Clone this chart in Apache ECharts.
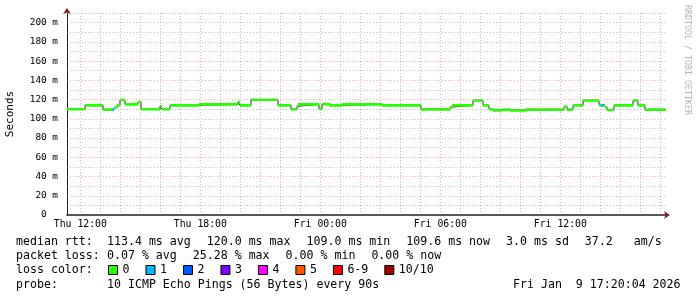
<!DOCTYPE html>
<html>
<head>
<meta charset="utf-8">
<script src="https://cdn.jsdelivr.net/npm/echarts@6/dist/echarts.min.js"></script>
<style>
html,body{margin:0;padding:0;background:#fff;}
#chart{width:697px;height:297px;}
</style>
</head>
<body>
<div id="chart"></div>
<script>
// ---- data (time in minutes since Thu 00:00) ----
const stepTimes = [680,734,788,815,821,830,839,854,893,902,959,965,989,1076,1193,1199,1232,1313,1352,1370,1373,1436,1445,1466,1505,1625,1742,1829,1835,1898,1928,1946,1958,1985,2009,2054,2171,2180,2198,2228,2276,2282,2291,2294,2300,2321,2378,2393,2414];
const stepEnd = 2477;
const medianRtt = [110.0,114.0,109.5,109.5,111.5,114.0,119.5,115.0,117.5,110.0,113.0,110.0,114.0,115.0,117.5,114.0,119.8,114.0,110.0,113.0,115.0,110.3,115.3,114.0,115.0,114.0,109.8,112.0,114.0,119.0,114.0,110.0,108.8,109.6,108.8,109.6,112.8,109.6,114.0,119.0,114.0,114.0,114.0,112.0,109.2,114.0,119.0,114.0,109.6];
const lostPings = [0,0,0,1,0,0,0,0,0,0,0,0,0,0,0,0,0,0,0,0,0,0,0,0,0,0,0,0,0,0,0,0,0,0,0,0,0,0,0,0,0,1,0,0,0,0,0,0,0];
const lossNames = ['0','1','2','3','4','5','6-9','10/10'];
const lossColors = ['#26ff00','#00b8ff','#0059ff','#7e00ff','#ff00ff','#ff5500','#ff0000','#a00000'];
const xRange = [680, 2480];
const xTickValues = [720,1080,1440,1800,2160];
const xTickLabels = ['Thu 12:00','Thu 18:00','Fri 00:00','Fri 06:00','Fri 12:00'];
const xMinorStep = 60, xMajorStep = 180;
const yRange = [0, 210];
const yTickValues = [0,20,40,60,80,100,120,140,160,180,200];
const yTickLabels = ['0  ','20 m','40 m','60 m','80 m','100 m','120 m','140 m','160 m','180 m','200 m'];
const yMinorStep = 10, yMajorStep = 20;
const rttLabel = 'median rtt:';
const rttParts = ['113.4 ms avg','120.0 ms max','109.0 ms min','109.6 ms now','3.0 ms sd','37.2   am/s'];
const lossLabel = 'packet loss:';
const lossParts = ['0.07 % avg','25.28 % max','0.00 % min','0.00 % now'];
const colorLabel = 'loss color:';
const probeLabel = 'probe:';
const probeText = '10 ICMP Echo Pings (56 Bytes) every 90s';
const stampText = 'Fri Jan  9 17:20:04 2026';
const yName = 'Seconds';
const watermark = 'RRDTOOL / TOBI OETIKER';

// ---- build series ----
function lossLevel(n){ if(n<=5) return n; if(n<10) return 6; return 7; }
const darkData = stepTimes.map((t,i)=>[t, medianRtt[i]]);
darkData.push([stepEnd, medianRtt[medianRtt.length-1]]);
const lossSeries = lossNames.map((name, lvl) => {
  const d = [];
  for (let i=0;i<stepTimes.length;i++){
    if (lossLevel(lostPings[i]) !== lvl) continue;
    const t1 = i+1<stepTimes.length ? stepTimes[i+1] : stepEnd;
    d.push([stepTimes[i], medianRtt[i]], [t1, medianRtt[i]], [t1, '-']);
  }
  return {
    name, type:'line', data:d, color: lossColors[lvl], symbol:'none', showSymbol:false,
    connectNulls:false, lineStyle:{width:2.6, color: lossColors[lvl], cap:'butt'},
    emphasis:{disabled:true}, silent:true, z:3
  };
});

const MONO = 'DejaVu Sans Mono';
const minorC = 'rgba(140,140,140,0.55)';
const majorC = 'rgba(222,90,90,0.5)';

// grid lines
const gridMarks = [];
for (let v = Math.ceil(xRange[0]/xMinorStep)*xMinorStep; v < xRange[1]; v += xMinorStep) {
  gridMarks.push({xAxis:v, lineStyle:{color: v % xMajorStep === 0 ? majorC : minorC, type:[1,2], width:1}});
}
for (let v = yRange[0] + yMinorStep; v <= yRange[1]; v += yMinorStep) {
  gridMarks.push({yAxis:v, lineStyle:{color: v % yMajorStep === 0 ? majorC : minorC, type:[1,2], width:1}});
}

// text rows
const CW = 6.98, GAP = 16, COL = 107, ROW0 = 236, ROWH = 14.2;
const textBase = {fontFamily: MONO, fontSize: 11.6, fill:'#000'};
function txt(s, x, row){ return {type:'text', left:x, top:ROW0 + row*ROWH, style:Object.assign({text:s}, textBase)}; }
const graphics = [];
graphics.push(txt(rttLabel, 16, 0));
let px = COL;
rttParts.forEach(p => { graphics.push(txt(p, px, 0)); px += p.length*CW + GAP; });
graphics.push(txt(lossLabel, 16, 1));
px = COL;
lossParts.forEach(p => { graphics.push(txt(p, px, 1)); px += p.length*CW + GAP; });
graphics.push(txt(colorLabel, 16, 2));
graphics.push(txt(probeLabel, 16, 3));
graphics.push(txt(probeText, COL, 3));
graphics.push(txt(stampText, 513, 3));
graphics.push({type:'text', x:691, y:5, rotation:-Math.PI/2,
  style:{text:watermark, fontFamily:MONO, fontSize:8.3, fill:'#b4b4b4', align:'left', verticalAlign:'top', textAlign:'left', textVerticalAlign:'top'}});

const chart = echarts.init(document.getElementById('chart'), null, {renderer:'canvas'});
chart.setOption({
  animation:false,
  backgroundColor:'#fff',
  grid:{left:67, right:30, top:13, bottom:82, containLabel:false, outerBoundsMode:'none'},
  legend:{
    data: lossNames, left:108, top:264, padding:0, icon:'rect',
    itemWidth:9, itemHeight:9, itemGap:16, selectedMode:false,
    itemStyle:{borderColor:'#000', borderWidth:1},
    textStyle:{fontFamily:MONO, fontSize:11.6, color:'#000'}
  },
  xAxis:[{
    type:'value', min:xRange[0], max:xRange[1],
    axisLine:{show:true, onZero:false, lineStyle:{color:'#1f1f1f', width:1.5}},
    axisTick:{show:false},
    axisLabel:{show:false},
    splitLine:{show:false}
  },{
    type:'value', min:xRange[0], max:xRange[1], position:'bottom',
    axisLine:{show:true, onZero:false, symbol:['none','arrow'], symbolSize:[6,6], symbolOffset:[0,3],
      lineStyle:{color:'#801f1f', width:0}},
    axisTick:{show:false}, splitLine:{show:false},
    axisLabel:{show:true, margin:4, fontFamily:MONO, fontSize:9.8, color:'#000',
      customValues: xTickValues,
      formatter:(v)=>{ const k = xTickValues.indexOf(Math.round(v)); return k>=0 ? xTickLabels[k] : ''; }}
  }],
  yAxis:[{
    type:'value', min:yRange[0], max:yRange[1],
    name:yName, nameLocation:'middle', nameRotate:90, nameGap:51,
    nameTextStyle:{fontFamily:MONO, fontSize:11, color:'#000'},
    axisLine:{show:true, onZero:false, lineStyle:{color:'#1f1f1f', width:1}},
    axisTick:{show:false},
    axisLabel:{show:true, margin:9, fontFamily:MONO, fontSize:9.4, color:'#000',
      customValues: yTickValues,
      formatter:(v)=>{ const k = yTickValues.indexOf(Math.round(v)); return k>=0 ? yTickLabels[k] : ''; }},
    splitLine:{show:false}
  },{
    type:'value', min:yRange[0], max:yRange[1], position:'left',
    axisLine:{show:true, onZero:false, symbol:['none','arrow'], symbolSize:[6,6], symbolOffset:[0,5],
      lineStyle:{color:'#801f1f', width:0}},
    axisTick:{show:false}, axisLabel:{show:false}, splitLine:{show:false}
  }],
  series:[
    {name:'grid', type:'line', data:[], silent:true, z:1,
     markLine:{silent:true, symbol:['none','none'], label:{show:false}, emphasis:{disabled:true},
       animation:false, data:gridMarks}},
    {name:'median', type:'line', step:'end', data:darkData, symbol:'none', showSymbol:false,
     lineStyle:{width:1, color:'#222'}, emphasis:{disabled:true}, silent:true, z:2}
  ].concat(lossSeries),
  graphic: graphics
});
</script>
</body>
</html>
